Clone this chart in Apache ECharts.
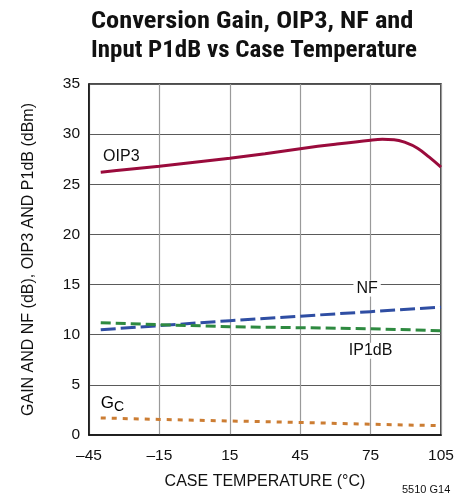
<!DOCTYPE html>
<html><head><meta charset="utf-8">
<script src="https://cdn.jsdelivr.net/npm/echarts@6/dist/echarts.min.js"></script>
<style>html,body{margin:0;padding:0;background:#fff}#c{width:466px;height:497px}</style>
</head><body><div id="c"></div>
<script>
const titleLines = ['Conversion Gain, OIP3, NF and', 'Input P1dB vs Case Temperature'];
const temps = [-40,-30,-15,0,15,30,45,60,75,80,85,90,95,100,105];
const oip3 = [26.2,26.45,26.8,27.2,27.6,28.05,28.55,29.0,29.4,29.48,29.45,29.15,28.6,27.7,26.7];
const nfTemps = [-40,-15,15,45,75,105];
const nf = [10.5,10.9,11.4,11.85,12.3,12.75];
const ip1db = [11.2,11.0,10.8,10.7,10.6,10.4];
const gc = [1.7,1.55,1.4,1.25,1.07,0.93];

const TFONT = '"Roboto Condensed","Liberation Sans Narrow",sans-serif';
const FONT = '"Liberation Sans",Arial,sans-serif';
const chart = echarts.init(document.getElementById('c'));
const pair = (xs, ys) => xs.map((x,i)=>[x, ys[i]]);
const fmt = v => v < 0 ? '\u2013' + Math.abs(v) : String(v);

chart.setOption({
  animation:false,
  grid:{left:89,right:25,top:84,bottom:62,show:true,borderColor:'#111',borderWidth:1.5},
  xAxis:{
    type:'value',min:-45,max:105,interval:30,
    name:'CASE TEMPERATURE (°C)',nameLocation:'middle',nameGap:39,
    nameTextStyle:{fontFamily:FONT,fontSize:16,color:'#111'},
    axisLine:{onZero:false,lineStyle:{color:'#111',width:1.5}},axisTick:{show:false},
    axisLabel:{fontFamily:FONT,fontSize:15.5,color:'#111',margin:13,formatter:fmt},
    splitLine:{lineStyle:{color:'#9a9a9a',width:1.2}}
  },
  yAxis:{
    type:'value',min:0,max:35,interval:5,
    name:'GAIN AND NF (dB), OIP3 AND P1dB (dBm)',nameLocation:'middle',nameGap:52,
    nameTextStyle:{fontFamily:FONT,fontSize:16,color:'#111'},
    axisLine:{onZero:false,lineStyle:{color:'#111',width:1.5}},axisTick:{show:false},
    axisLabel:{fontFamily:FONT,fontSize:15.5,color:'#111',margin:9,formatter:fmt},
    splitLine:{lineStyle:{color:'#5a5a5a',width:1.2}}
  },
  series:[
    {name:'OIP3',type:'line',smooth:0.4,symbol:'none',data:pair(temps,oip3),
     lineStyle:{color:'#9a0b3c',width:3}},
    {name:'NF',type:'line',symbol:'none',data:pair(nfTemps,nf),
     lineStyle:{color:'#2f4ea3',width:3,type:[15,5]}},
    {name:'IP1dB',type:'line',symbol:'none',data:pair(nfTemps,ip1db),
     lineStyle:{color:'#2e8a40',width:3,type:[10,5]}},
    {name:'GC',type:'line',symbol:'none',data:pair(nfTemps,gc),
     lineStyle:{color:'#cc7d33',width:3,type:[5,6]}}
  ]
});

function place(){
  const p = (x,y)=>chart.convertToPixel({gridIndex:0},[x,y]);
  const a = p(-39,27.8), b = p(73.5,14.6), c = p(75,8.4), d = p(-40,3.2);
  const txt = (x,y,t,opt)=>Object.assign({type:'text',x:x,y:y,z:10,
    style:Object.assign({text:t,fontFamily:FONT,fontSize:16,fill:'#111',align:'left',verticalAlign:'middle'},opt||{})});
  chart.setOption({graphic:[
    {type:'text',x:91,y:22,scaleX:1.10,originX:0,style:{text:titleLines[0],fontFamily:TFONT,fontWeight:'bold',fontSize:24,fill:'#111',verticalAlign:'middle'}},
    {type:'text',x:91,y:51,scaleX:1.04,originX:0,style:{text:titleLines[1],fontFamily:TFONT,fontWeight:'bold',fontSize:24,fill:'#111',verticalAlign:'middle'}},
    {type:'text',x:402,y:490,style:{text:'5510 G14',fontFamily:FONT,fontSize:11,fill:'#111',verticalAlign:'middle'}},
    txt(a[0],a[1],'OIP3'),
    txt(b[0],b[1],'NF',{align:'center',backgroundColor:'#fff',padding:[0,3]}),
    txt(c[0],c[1],'IP1dB',{align:'center',backgroundColor:'#fff',padding:[0,2]}),
    {type:'text',x:d[0],y:d[1],style:{text:'{g|G}{s|C}',align:'left',verticalAlign:'middle',
      rich:{g:{fontFamily:FONT,fontSize:17,color:'#111'},s:{fontFamily:FONT,fontSize:14,color:'#111',padding:[9,0,0,0]}}}}
  ]});
}
place();
</script></body></html>
